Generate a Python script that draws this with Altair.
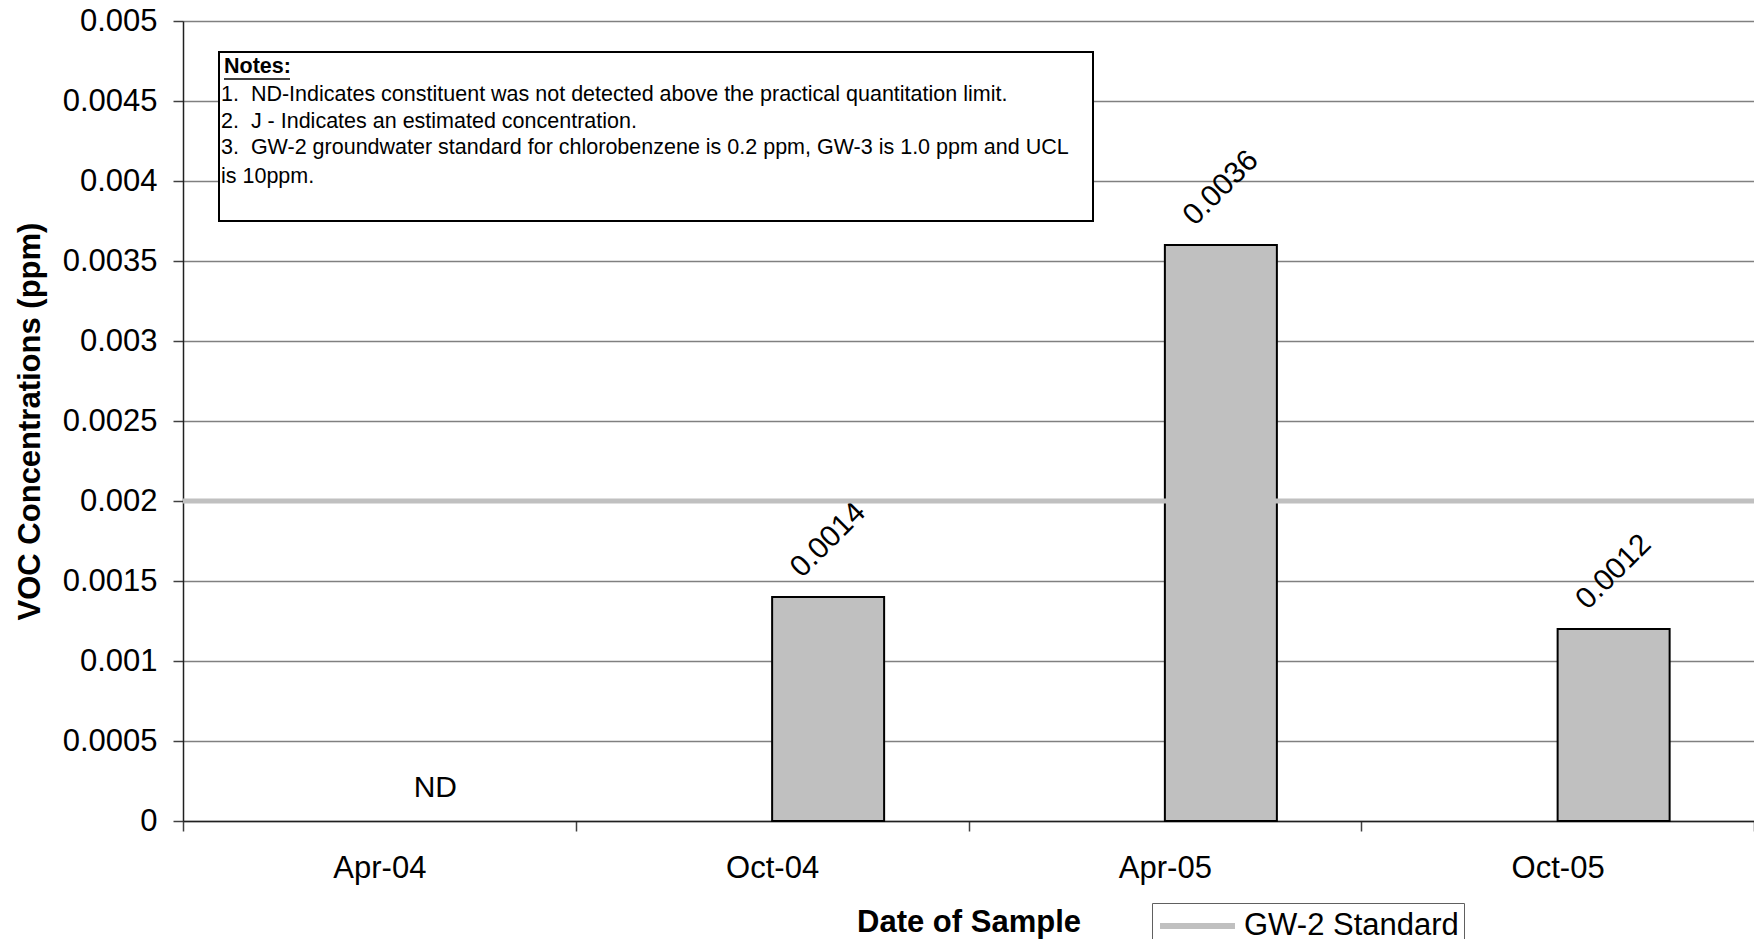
import altair as alt
import pandas as pd

# ---- data ----
dates = ["Apr-04", "Oct-04", "Apr-05", "Oct-05"]
values = [None, 0.0014, 0.0036, 0.0012]
value_labels = ["ND", "0.0014", "0.0036", "0.0012"]
series_names = ["(blank)", "Chlorobenzene"]
standard_name = ["GW-2 Standard"]
standard_value = [0.002]
y_ticks = [0, 0.0005, 0.001, 0.0015, 0.002, 0.0025, 0.003, 0.0035, 0.004, 0.0045, 0.005]
notes_title = "Notes:"
notes_lines = [
    "1.\u00a0 ND-Indicates constituent was not detected above the practical quantitation limit.",
    "2.\u00a0 J - Indicates an estimated concentration.",
    "3.\u00a0 GW-2 groundwater standard for chlorobenzene is 0.2 ppm, GW-3 is 1.0 ppm and UCL",
    "is 10ppm.",
]

df = pd.DataFrame({
    "date": dates,
    "value": values,
    "label": value_labels,
    "series": [series_names[1]] * len(dates),
})
std_df = pd.DataFrame({"name": standard_name, "value": standard_value})

FONT = "Liberation Sans"
W, H = 1571, 800
BAND = W / len(dates)
SUB = 112
PO = (BAND / SUB - 2) / 2

x_enc = alt.X("date:N", sort=dates,
              scale=alt.Scale(paddingInner=0, paddingOuter=0),
              axis=alt.Axis(title="Date of Sample", labelAngle=0, tickBand="extent",
                            labelFontSize=31, labelFont=FONT, labelColor="black",
                            titleFontSize=31, titleFont=FONT, titleFontWeight="bold",
                            titleColor="black", titlePadding=24,
                            tickSize=10, tickColor="#404040", tickWidth=1.5,
                            labelPadding=22, domainColor="#202020", domainWidth=1.5,
                            grid=False))
xoff_enc = alt.XOffset("series:N", scale=alt.Scale(domain=series_names, paddingInner=0,
                                                    paddingOuter=PO))
y_scale = alt.Scale(domain=[0, 0.005], nice=False, zero=True)
y_axis = alt.Axis(title="VOC Concentrations (ppm)", values=y_ticks, format=".4~f",
                  labelFontSize=31, labelFont=FONT, labelColor="black",
                  titleFontSize=31, titleFont=FONT, titleFontWeight="bold",
                  titleColor="black", titlePadding=16,
                  tickSize=10, tickColor="#404040", tickWidth=1.5, labelPadding=16,
                  domainColor="#202020", domainWidth=1.5,
                  grid=True, gridColor="#808080", gridWidth=1.5)

base = alt.Chart(df)

bars = base.mark_bar(fill="#c0c0c0", stroke="black", strokeWidth=2).encode(
    x=x_enc, xOffset=xoff_enc,
    y=alt.Y("value:Q", scale=y_scale, axis=y_axis),
).transform_filter("datum.value != null")

labels = base.mark_text(angle=315, fontSize=30, font=FONT, align="center",
                        baseline="middle", yOffset=-57, color="black").encode(
    x=alt.X("date:N", sort=dates), xOffset="series:N",
    y=alt.Y("value:Q"), text="label:N",
).transform_filter("datum.value != null")

nd = base.mark_text(fontSize=30, font=FONT, align="center", baseline="middle",
                    yOffset=-33, color="black").encode(
    x=alt.X("date:N", sort=dates), xOffset="series:N",
    y=alt.datum(0), text="label:N",
).transform_filter("datum.value == null")

std_rule = alt.Chart(std_df).mark_rule(strokeWidth=5).encode(
    y=alt.Y("value:Q"),
    color=alt.Color("name:N", scale=alt.Scale(domain=standard_name, range=["#c0c0c0"]),
                    legend=alt.Legend(title=None, orient="none", legendX=969, legendY=882,
                                      symbolType="M-1,0H4", symbolSize=900,
                                      symbolStrokeWidth=6, labelFontSize=31,
                                      labelFont=FONT, labelColor="black",
                                      strokeColor="#606060", padding=5,
                                      labelOffset=51, labelLimit=0)),
)

one = alt.Data(values=[{"k": 1}])
notes_box = alt.Chart(one).mark_rect(fill="white", stroke="black", strokeWidth=2).encode(
    x=alt.value(36), x2=alt.value(910), y=alt.value(31), y2=alt.value(200))
notes_head = alt.Chart(one).mark_text(align="left", baseline="middle", fontSize=21.5,
                                      font=FONT, fontWeight="bold", color="black").encode(
    x=alt.value(41), y=alt.value(46), text=alt.value(notes_title))
notes_ul = alt.Chart(one).mark_rule(color="black", strokeWidth=1.5).encode(
    x=alt.value(41), x2=alt.value(107), y=alt.value(58))
line_y = [74, 100.5, 127, 155.5]
note_layers = [
    alt.Chart(one).mark_text(align="left", baseline="middle", fontSize=21.5, font=FONT,
                             color="black").encode(
        x=alt.value(38), y=alt.value(ly), text=alt.value(t))
    for t, ly in zip(notes_lines, line_y)
]

chart = alt.layer(bars, notes_box, notes_head, notes_ul, *note_layers, labels, nd,
                  std_rule).properties(
    width=W, height=H,
    padding={"left": 175, "top": 13, "right": 0, "bottom": 118},
    autosize=alt.AutoSizeParams(type="none"),
).configure_view(stroke="#808080", strokeWidth=2).configure(background="white")

chart.save("out.html", embed_options={"renderer": "svg", "actions": False})
